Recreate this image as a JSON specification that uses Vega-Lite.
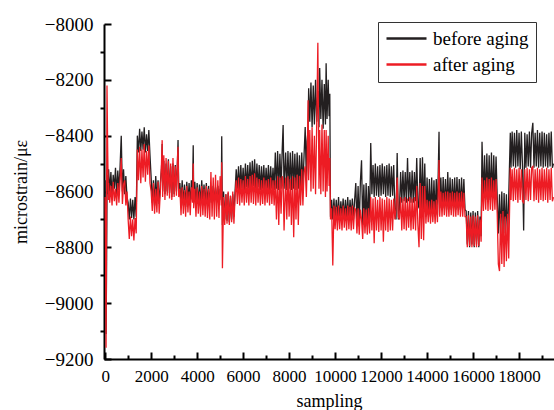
{
  "$schema": "https://vega.github.io/schema/vega-lite/v6.json",
  "width": 450,
  "height": 335,
  "autosize": {"type": "none"},
  "padding": {"left": 104, "top": 24, "right": 0, "bottom": 51},
  "config": {"view": {"stroke": null}, "font": "Liberation Serif, Times New Roman, serif"},
  "data": {"values": [
    {"x":0,"b":-8560,"a":-8620},{"x":20,"b":-8800,"a":-8850},{"x":40,"b":-9110,"a":-9160},{"x":60,"b":-8900,"a":-8700},{"x":80,"b":-8620,"a":-8220},{"x":110,"b":-8540,"a":-8450},{"x":140,"b":-8610,"a":-8630},
    {"x":150,"b":-8520,"a":-8570},{"x":200,"b":-8600,"a":-8640},{"x":250,"b":-8530,"a":-8580},{"x":300,"b":-8615,"a":-8650},{"x":350,"b":-8540,"a":-8565},{"x":400,"b":-8590,"a":-8635},{"x":450,"b":-8515,"a":-8590},{"x":500,"b":-8610,"a":-8650},
    {"x":550,"b":-8525,"a":-8570},{"x":600,"b":-8595,"a":-8640},{"x":650,"b":-8510,"a":-8560},{"x":700,"b":-8400,"a":-8480},{"x":750,"b":-8600,"a":-8645},{"x":800,"b":-8520,"a":-8575},{"x":850,"b":-8610,"a":-8560},{"x":900,"b":-8545,"a":-8650},{"x":950,"b":-8620,"a":-8600},
    {"x":1000,"b":-8640,"a":-8700},{"x":1050,"b":-8700,"a":-8770},{"x":1100,"b":-8625,"a":-8690},{"x":1150,"b":-8695,"a":-8760},{"x":1200,"b":-8630,"a":-8700},{"x":1250,"b":-8700,"a":-8775},{"x":1300,"b":-8620,"a":-8695},{"x":1350,"b":-8690,"a":-8750},
    {"x":1400,"b":-8400,"a":-8450},{"x":1450,"b":-8460,"a":-8560},{"x":1500,"b":-8375,"a":-8440},{"x":1550,"b":-8455,"a":-8570},{"x":1600,"b":-8385,"a":-8450},{"x":1650,"b":-8450,"a":-8550},{"x":1700,"b":-8370,"a":-8430},{"x":1750,"b":-8460,"a":-8565},
    {"x":1800,"b":-8395,"a":-8455},{"x":1850,"b":-8455,"a":-8540},{"x":1900,"b":-8380,"a":-8435},{"x":1950,"b":-8470,"a":-8570},
    {"x":2000,"b":-8550,"a":-8600},{"x":2050,"b":-8640,"a":-8670},{"x":2100,"b":-8560,"a":-8570},{"x":2150,"b":-8650,"a":-8680},{"x":2200,"b":-8545,"a":-8590},{"x":2250,"b":-8630,"a":-8675},{"x":2300,"b":-8560,"a":-8565},{"x":2350,"b":-8645,"a":-8680},
    {"x":2400,"b":-8570,"a":-8600},{"x":2450,"b":-8520,"a":-8500},{"x":2480,"b":-8430,"a":-8416},
    {"x":2500,"b":-8600,"a":-8620},{"x":2550,"b":-8490,"a":-8470},{"x":2600,"b":-8610,"a":-8630},{"x":2650,"b":-8500,"a":-8480},{"x":2700,"b":-8600,"a":-8615},{"x":2750,"b":-8485,"a":-8490},{"x":2800,"b":-8605,"a":-8625},{"x":2850,"b":-8510,"a":-8500},
    {"x":2900,"b":-8620,"a":-8630},{"x":2950,"b":-8500,"a":-8480},{"x":3000,"b":-8610,"a":-8620},{"x":3050,"b":-8505,"a":-8510},{"x":3100,"b":-8600,"a":-8615},{"x":3150,"b":-8480,"a":-8470},{"x":3170,"b":-8416,"a":-8440},
    {"x":3200,"b":-8600,"a":-8620},{"x":3250,"b":-8570,"a":-8590},{"x":3300,"b":-8645,"a":-8685},{"x":3350,"b":-8560,"a":-8585},{"x":3400,"b":-8650,"a":-8680},{"x":3450,"b":-8575,"a":-8595},{"x":3500,"b":-8655,"a":-8690},{"x":3550,"b":-8565,"a":-8580},
    {"x":3600,"b":-8640,"a":-8675},{"x":3650,"b":-8570,"a":-8600},{"x":3700,"b":-8650,"a":-8685},{"x":3750,"b":-8560,"a":-8585},{"x":3800,"b":-8600,"a":-8640},{"x":3830,"b":-8434,"a":-8500},{"x":3850,"b":-8620,"a":-8660},{"x":3900,"b":-8565,"a":-8590},
    {"x":3950,"b":-8650,"a":-8690},{"x":4000,"b":-8570,"a":-8585},{"x":4050,"b":-8645,"a":-8680},{"x":4100,"b":-8575,"a":-8600},{"x":4150,"b":-8650,"a":-8690},{"x":4200,"b":-8560,"a":-8580},{"x":4250,"b":-8640,"a":-8685},{"x":4300,"b":-8575,"a":-8590},
    {"x":4350,"b":-8650,"a":-8690},{"x":4400,"b":-8570,"a":-8580},{"x":4450,"b":-8645,"a":-8695},{"x":4500,"b":-8580,"a":-8590},
    {"x":4550,"b":-8640,"a":-8700},{"x":4600,"b":-8585,"a":-8530},{"x":4650,"b":-8640,"a":-8690},{"x":4700,"b":-8580,"a":-8550},{"x":4750,"b":-8635,"a":-8700},{"x":4800,"b":-8585,"a":-8540},{"x":4850,"b":-8640,"a":-8690},{"x":4900,"b":-8580,"a":-8560},
    {"x":4950,"b":-8635,"a":-8695},{"x":5000,"b":-8590,"a":-8545},{"x":5050,"b":-8630,"a":-8650},{"x":5070,"b":-8402,"a":-8495},{"x":5100,"b":-8720,"a":-8875},
    {"x":5150,"b":-8600,"a":-8620},{"x":5200,"b":-8700,"a":-8720},{"x":5250,"b":-8610,"a":-8610},{"x":5300,"b":-8705,"a":-8715},{"x":5350,"b":-8605,"a":-8600},{"x":5400,"b":-8710,"a":-8720},{"x":5450,"b":-8615,"a":-8615},{"x":5500,"b":-8700,"a":-8710},
    {"x":5550,"b":-8610,"a":-8600},{"x":5600,"b":-8690,"a":-8715},{"x":5650,"b":-8600,"a":-8620},
    {"x":5700,"b":-8520,"a":-8560},{"x":5750,"b":-8590,"a":-8645},{"x":5800,"b":-8510,"a":-8550},{"x":5850,"b":-8595,"a":-8650},{"x":5900,"b":-8505,"a":-8555},{"x":5950,"b":-8590,"a":-8640},{"x":6000,"b":-8515,"a":-8560},{"x":6050,"b":-8595,"a":-8650},
    {"x":6100,"b":-8500,"a":-8545},{"x":6150,"b":-8585,"a":-8640},{"x":6200,"b":-8505,"a":-8555},{"x":6250,"b":-8590,"a":-8650},{"x":6300,"b":-8495,"a":-8545},{"x":6350,"b":-8585,"a":-8640},{"x":6400,"b":-8490,"a":-8540},{"x":6450,"b":-8580,"a":-8645},
    {"x":6500,"b":-8485,"a":-8535},{"x":6550,"b":-8590,"a":-8650},{"x":6600,"b":-8500,"a":-8550},{"x":6650,"b":-8585,"a":-8640},{"x":6700,"b":-8505,"a":-8555},{"x":6750,"b":-8595,"a":-8650},{"x":6800,"b":-8510,"a":-8560},{"x":6850,"b":-8590,"a":-8645},
    {"x":6900,"b":-8505,"a":-8550},{"x":6950,"b":-8595,"a":-8650},{"x":7000,"b":-8515,"a":-8560},{"x":7050,"b":-8590,"a":-8640},{"x":7100,"b":-8505,"a":-8555},{"x":7150,"b":-8595,"a":-8650},{"x":7200,"b":-8510,"a":-8550},{"x":7250,"b":-8590,"a":-8645},
    {"x":7300,"b":-8515,"a":-8560},{"x":7350,"b":-8595,"a":-8650},
    {"x":7400,"b":-8460,"a":-8560},{"x":7450,"b":-8590,"a":-8700},{"x":7500,"b":-8455,"a":-8545},{"x":7550,"b":-8595,"a":-8720},{"x":7600,"b":-8465,"a":-8550},{"x":7650,"b":-8590,"a":-8680},{"x":7700,"b":-8450,"a":-8545},{"x":7740,"b":-8362,"a":-8560},
    {"x":7780,"b":-8590,"a":-8740},{"x":7850,"b":-8460,"a":-8550},{"x":7900,"b":-8595,"a":-8700},{"x":7950,"b":-8455,"a":-8545},{"x":8000,"b":-8590,"a":-8690},{"x":8050,"b":-8460,"a":-8555},{"x":8100,"b":-8595,"a":-8720},{"x":8150,"b":-8455,"a":-8545},
    {"x":8200,"b":-8590,"a":-8764},{"x":8250,"b":-8465,"a":-8550},{"x":8300,"b":-8595,"a":-8700},{"x":8350,"b":-8460,"a":-8540},{"x":8400,"b":-8590,"a":-8720},{"x":8450,"b":-8470,"a":-8545},{"x":8500,"b":-8595,"a":-8650},{"x":8550,"b":-8460,"a":-8520},
    {"x":8600,"b":-8580,"a":-8650},{"x":8650,"b":-8470,"a":-8530},{"x":8700,"b":-8369,"a":-8510},{"x":8750,"b":-8560,"a":-8620},{"x":8780,"b":-8420,"a":-8520},
    {"x":8826,"b":-8380,"a":-8273},{"x":8850,"b":-8230,"a":-8560},{"x":8900,"b":-8350,"a":-8380},{"x":8950,"b":-8210,"a":-8600},{"x":9000,"b":-8370,"a":-8370},{"x":9050,"b":-8220,"a":-8590},{"x":9100,"b":-8360,"a":-8400},{"x":9150,"b":-8200,"a":-8610},
    {"x":9200,"b":-8350,"a":-8360},{"x":9250,"b":-8240,"a":-8067},{"x":9300,"b":-8370,"a":-8590},{"x":9330,"b":-8158,"a":-8380},{"x":9380,"b":-8340,"a":-8610},{"x":9430,"b":-8200,"a":-8360},{"x":9480,"b":-8375,"a":-8600},{"x":9530,"b":-8215,"a":-8380},
    {"x":9580,"b":-8360,"a":-8620},{"x":9610,"b":-8141,"a":-8380},{"x":9650,"b":-8340,"a":-8600},{"x":9700,"b":-8200,"a":-8400},{"x":9740,"b":-8330,"a":-8580},{"x":9770,"b":-8250,"a":-8480},
    {"x":9800,"b":-8690,"a":-8700},{"x":9850,"b":-8630,"a":-8660},{"x":9900,"b":-8700,"a":-8865},{"x":9950,"b":-8625,"a":-8650},{"x":10000,"b":-8700,"a":-8735},{"x":10050,"b":-8630,"a":-8655},{"x":10100,"b":-8695,"a":-8740},{"x":10150,"b":-8620,"a":-8650},
    {"x":10200,"b":-8700,"a":-8735},{"x":10250,"b":-8635,"a":-8660},{"x":10300,"b":-8690,"a":-8740},{"x":10350,"b":-8625,"a":-8650},{"x":10400,"b":-8700,"a":-8730},{"x":10450,"b":-8630,"a":-8660},{"x":10500,"b":-8695,"a":-8740},{"x":10550,"b":-8620,"a":-8650},
    {"x":10600,"b":-8700,"a":-8735},{"x":10650,"b":-8630,"a":-8655},{"x":10700,"b":-8690,"a":-8740},{"x":10750,"b":-8625,"a":-8650},{"x":10800,"b":-8700,"a":-8735},{"x":10850,"b":-8630,"a":-8660},
    {"x":10900,"b":-8570,"a":-8665},{"x":10950,"b":-8720,"a":-8750},{"x":11000,"b":-8580,"a":-8660},{"x":11050,"b":-8725,"a":-8755},{"x":11100,"b":-8565,"a":-8665},{"x":11150,"b":-8488,"a":-8700},{"x":11200,"b":-8720,"a":-8770},{"x":11250,"b":-8575,"a":-8660},
    {"x":11300,"b":-8715,"a":-8750},{"x":11350,"b":-8570,"a":-8665},{"x":11400,"b":-8725,"a":-8755},{"x":11450,"b":-8580,"a":-8660},{"x":11500,"b":-8710,"a":-8750},
    {"x":11550,"b":-8426,"a":-8620},{"x":11600,"b":-8610,"a":-8740},{"x":11650,"b":-8505,"a":-8625},{"x":11700,"b":-8620,"a":-8785},{"x":11750,"b":-8500,"a":-8620},{"x":11800,"b":-8615,"a":-8740},{"x":11850,"b":-8510,"a":-8630},{"x":11900,"b":-8620,"a":-8745},
    {"x":11950,"b":-8505,"a":-8620},{"x":12000,"b":-8615,"a":-8740},{"x":12050,"b":-8500,"a":-8625},{"x":12100,"b":-8610,"a":-8780},{"x":12150,"b":-8510,"a":-8630},{"x":12200,"b":-8620,"a":-8740},{"x":12250,"b":-8505,"a":-8620},{"x":12300,"b":-8615,"a":-8745},
    {"x":12350,"b":-8500,"a":-8625},{"x":12400,"b":-8620,"a":-8740},{"x":12450,"b":-8510,"a":-8630},{"x":12500,"b":-8615,"a":-8740},{"x":12550,"b":-8505,"a":-8625},
    {"x":12600,"b":-8660,"a":-8700},{"x":12650,"b":-8700,"a":-8660},{"x":12700,"b":-8462,"a":-8550},{"x":12750,"b":-8700,"a":-8690},{"x":12800,"b":-8660,"a":-8700},
    {"x":12850,"b":-8530,"a":-8620},{"x":12900,"b":-8640,"a":-8740},{"x":12950,"b":-8525,"a":-8625},{"x":13000,"b":-8635,"a":-8735},{"x":13050,"b":-8530,"a":-8620},{"x":13100,"b":-8640,"a":-8740},{"x":13150,"b":-8480,"a":-8625},{"x":13200,"b":-8635,"a":-8730},
    {"x":13250,"b":-8530,"a":-8620},{"x":13300,"b":-8640,"a":-8740},{"x":13350,"b":-8525,"a":-8625},{"x":13400,"b":-8640,"a":-8735},{"x":13450,"b":-8530,"a":-8620},{"x":13500,"b":-8635,"a":-8740},{"x":13550,"b":-8480,"a":-8580},{"x":13600,"b":-8640,"a":-8720},
    {"x":13650,"b":-8660,"a":-8800},{"x":13700,"b":-8480,"a":-8570},{"x":13750,"b":-8660,"a":-8770},{"x":13800,"b":-8477,"a":-8580},{"x":13850,"b":-8665,"a":-8775},{"x":13900,"b":-8500,"a":-8580},
    {"x":13950,"b":-8690,"a":-8715},{"x":14000,"b":-8550,"a":-8630},{"x":14050,"b":-8685,"a":-8710},{"x":14100,"b":-8555,"a":-8635},{"x":14150,"b":-8690,"a":-8715},{"x":14200,"b":-8550,"a":-8630},{"x":14250,"b":-8680,"a":-8710},{"x":14300,"b":-8560,"a":-8635},
    {"x":14350,"b":-8690,"a":-8715},{"x":14400,"b":-8555,"a":-8630},{"x":14450,"b":-8685,"a":-8710},{"x":14520,"b":-8386,"a":-8487},
    {"x":14550,"b":-8660,"a":-8690},{"x":14600,"b":-8550,"a":-8600},{"x":14650,"b":-8665,"a":-8690},{"x":14700,"b":-8548,"a":-8605},{"x":14750,"b":-8660,"a":-8685},{"x":14800,"b":-8555,"a":-8600},{"x":14850,"b":-8665,"a":-8690},{"x":14900,"b":-8530,"a":-8600},
    {"x":14950,"b":-8660,"a":-8690},{"x":15000,"b":-8550,"a":-8605},{"x":15050,"b":-8665,"a":-8685},{"x":15100,"b":-8555,"a":-8600},{"x":15150,"b":-8660,"a":-8690},{"x":15200,"b":-8550,"a":-8605},{"x":15250,"b":-8665,"a":-8690},{"x":15300,"b":-8548,"a":-8600},
    {"x":15350,"b":-8660,"a":-8685},{"x":15400,"b":-8555,"a":-8605},{"x":15450,"b":-8665,"a":-8690},{"x":15500,"b":-8550,"a":-8600},{"x":15550,"b":-8660,"a":-8690},{"x":15600,"b":-8555,"a":-8605},{"x":15650,"b":-8665,"a":-8690},
    {"x":15700,"b":-8670,"a":-8690},{"x":15750,"b":-8790,"a":-8800},{"x":15800,"b":-8670,"a":-8685},{"x":15850,"b":-8800,"a":-8795},{"x":15900,"b":-8675,"a":-8690},{"x":15950,"b":-8790,"a":-8800},{"x":16000,"b":-8670,"a":-8685},{"x":16050,"b":-8800,"a":-8795},
    {"x":16100,"b":-8675,"a":-8690},{"x":16150,"b":-8790,"a":-8800},{"x":16200,"b":-8670,"a":-8685},{"x":16250,"b":-8800,"a":-8795},{"x":16300,"b":-8690,"a":-8700},{"x":16350,"b":-8760,"a":-8780},{"x":16390,"b":-8422,"a":-8550},
    {"x":16450,"b":-8620,"a":-8670},{"x":16500,"b":-8470,"a":-8560},{"x":16550,"b":-8630,"a":-8665},{"x":16600,"b":-8464,"a":-8550},{"x":16650,"b":-8625,"a":-8670},{"x":16700,"b":-8470,"a":-8555},{"x":16750,"b":-8630,"a":-8665},{"x":16800,"b":-8460,"a":-8550},
    {"x":16850,"b":-8625,"a":-8670},{"x":16900,"b":-8470,"a":-8560},{"x":16950,"b":-8630,"a":-8665},{"x":17000,"b":-8475,"a":-8555},
    {"x":17050,"b":-8620,"a":-8680},{"x":17100,"b":-8750,"a":-8860},{"x":17150,"b":-8610,"a":-8885},{"x":17200,"b":-8760,"a":-8680},{"x":17250,"b":-8600,"a":-8860},{"x":17300,"b":-8755,"a":-8670},{"x":17350,"b":-8605,"a":-8870},{"x":17400,"b":-8750,"a":-8690},
    {"x":17450,"b":-8610,"a":-8850},{"x":17500,"b":-8760,"a":-8680},{"x":17550,"b":-8620,"a":-8840},
    {"x":17620,"b":-8390,"a":-8515},{"x":17650,"b":-8515,"a":-8630},{"x":17700,"b":-8385,"a":-8520},{"x":17750,"b":-8510,"a":-8635},{"x":17800,"b":-8390,"a":-8515},{"x":17850,"b":-8515,"a":-8630},{"x":17900,"b":-8380,"a":-8520},{"x":17950,"b":-8510,"a":-8640},
    {"x":18000,"b":-8390,"a":-8515},{"x":18050,"b":-8520,"a":-8630},{"x":18100,"b":-8385,"a":-8520},{"x":18150,"b":-8510,"a":-8635},{"x":18200,"b":-8740,"a":-8640},{"x":18250,"b":-8390,"a":-8520},{"x":18300,"b":-8515,"a":-8630},{"x":18350,"b":-8395,"a":-8515},
    {"x":18400,"b":-8510,"a":-8635},{"x":18450,"b":-8385,"a":-8520},{"x":18500,"b":-8515,"a":-8630},{"x":18550,"b":-8390,"a":-8515},{"x":18600,"b":-8354,"a":-8510},{"x":18650,"b":-8515,"a":-8635},{"x":18700,"b":-8390,"a":-8520},{"x":18750,"b":-8510,"a":-8630},
    {"x":18800,"b":-8380,"a":-8515},{"x":18850,"b":-8515,"a":-8640},{"x":18900,"b":-8390,"a":-8520},{"x":18950,"b":-8510,"a":-8630},{"x":19000,"b":-8385,"a":-8515},{"x":19050,"b":-8515,"a":-8635},{"x":19100,"b":-8390,"a":-8520},{"x":19150,"b":-8510,"a":-8630},
    {"x":19200,"b":-8395,"a":-8515},{"x":19250,"b":-8515,"a":-8640},{"x":19300,"b":-8390,"a":-8520},{"x":19350,"b":-8510,"a":-8630},{"x":19400,"b":-8385,"a":-8515},{"x":19450,"b":-8515,"a":-8635},{"x":19500,"b":-8500,"a":-8620}
  ]},
  "layer": [
    {
      "mark": {"type": "line", "strokeWidth": 1.3, "clip": true},
      "encoding": {
        "x": {"field": "x", "type": "quantitative", "scale": {"domain": [-50, 19520], "nice": false, "zero": false},
          "axis": {"orient": "bottom", "values": [0,2000,4000,6000,8000,10000,12000,14000,16000,18000], "format": "d",
            "grid": false, "tickSize": -7, "tickWidth": 2, "tickColor": "black", "domainColor": "black", "domainWidth": 2,
            "labelFont": "Liberation Serif, Times New Roman, serif", "labelFontSize": 17, "labelColor": "black", "labelPadding": 16,
            "labelOverlap": false, "labelFlush": false, "labelBound": false,
            "title": "sampling", "titleFont": "Liberation Serif, Times New Roman, serif", "titleFontSize": 18, "titleFontWeight": "normal", "titleColor": "black", "titlePadding": 8}},
        "y": {"field": "b", "type": "quantitative", "scale": {"domain": [-9200, -8000], "nice": false, "zero": false},
          "axis": {"orient": "left", "values": [-9200,-9000,-8800,-8600,-8400,-8200,-8000], "format": "d",
            "grid": false, "tickSize": -7, "tickWidth": 2, "tickColor": "black", "domainColor": "black", "domainWidth": 2,
            "labelFont": "Liberation Serif, Times New Roman, serif", "labelFontSize": 19, "labelColor": "black", "labelPadding": 18, "labelOverlap": false,
            "title": "microstrain/με", "titleFont": "Liberation Serif, Times New Roman, serif", "titleFontSize": 18, "titleFontWeight": "normal", "titleColor": "black", "titlePadding": 14}},
        "color": {"datum": "before aging", "type": "nominal",
          "scale": {"domain": ["before aging", "after aging"], "range": ["#231f20", "#ed1c24"]},
          "legend": {"orient": "none", "legendX": 274, "legendY": -2, "title": null, "symbolType": "M-1,0H4", "symbolSize": 256,
            "symbolStrokeWidth": 2.5, "labelFont": "Liberation Serif, Times New Roman, serif", "labelFontSize": 19, "labelColor": "black",
            "strokeColor": "#333333", "fillColor": "white", "padding": 7, "rowPadding": 6, "labelOffset": 29}}
      }
    },
    {
      "mark": {"type": "line", "strokeWidth": 1.3, "clip": true},
      "encoding": {
        "x": {"field": "x", "type": "quantitative",
          "axis": {"orient": "bottom", "values": [1000,3000,5000,7000,9000,11000,13000,15000,17000,19000],
            "labels": false, "domain": false, "grid": false, "tickSize": -4, "tickWidth": 2, "tickColor": "black", "title": null}},
        "y": {"field": "a", "type": "quantitative",
          "axis": {"orient": "left", "values": [-9100,-8900,-8700,-8500,-8300,-8100],
            "labels": false, "domain": false, "grid": false, "tickSize": 4, "tickWidth": 2, "tickColor": "black", "title": null}},
        "color": {"datum": "after aging", "type": "nominal"}
      }
    }
  ],
  "resolve": {"axis": {"x": "independent", "y": "independent"}}
}
